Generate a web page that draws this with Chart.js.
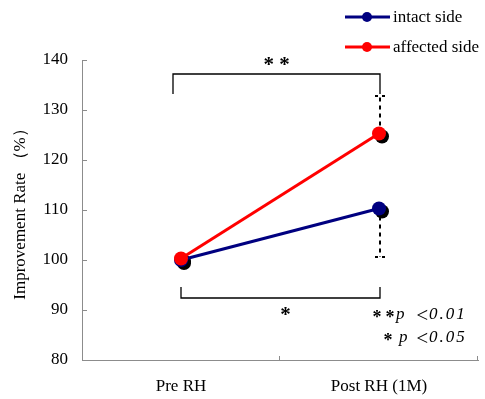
<!DOCTYPE html>
<html><head><meta charset="utf-8">
<script src="https://cdn.jsdelivr.net/npm/chart.js@4"></script>
<style>html,body{margin:0;padding:0;background:#fff}#c{display:block}</style>
</head><body>
<canvas id="c" width="485" height="399"></canvas>
<script>
const categories = ["Pre RH", "Post RH (1M)"];
const intactSide = [100.0, 110.3];
const affectedSide = [100.3, 125.3];
const intactErrLow = [null, 100.6];
const affectedErrHigh = [null, 132.8];
const yTicks = [80, 90, 100, 110, 120, 130, 140];
const topBracket = {y: 137.2, drop: 133.2, label: "* *"};
const bottomBracket = {y: 92.4, rise: 94.6, label: "*"};
const noteStars = [2, 1];
const noteP = ["0.01", "0.05"];

const FONT = "'Liberation Serif','DejaVu Serif',serif";
const AXIS = "#8c8c8c";

const custom = {
  id: "custom",
  beforeDatasetsDraw(chart) {
    const ctx = chart.ctx;
    ctx.save();
    ctx.fillStyle = "#000";
    chart.data.datasets.forEach((ds, i) => {
      chart.getDatasetMeta(i).data.forEach(pt => {
        ctx.beginPath(); ctx.arc(pt.x + 3, pt.y + 3, 7, 0, Math.PI * 2); ctx.fill();
      });
    });
    const x = chart.scales.x, y = chart.scales.y;
    ctx.strokeStyle = "#000"; ctx.lineWidth = 2; ctx.setLineDash([4, 4]);
    const eb = (i, from, to) => {
      const px = x.getPixelForValue(i) + 1;
      ctx.beginPath(); ctx.moveTo(px, y.getPixelForValue(from)); ctx.lineTo(px, y.getPixelForValue(to)); ctx.stroke();
      ctx.setLineDash([3, 4]);
      ctx.beginPath(); ctx.moveTo(px - 5, y.getPixelForValue(to)); ctx.lineTo(px + 6, y.getPixelForValue(to)); ctx.stroke();
      ctx.setLineDash([4, 4]);
    };
    affectedErrHigh.forEach((v, i) => { if (v != null) eb(i, affectedSide[i], v); });
    intactErrLow.forEach((v, i) => { if (v != null) eb(i, intactSide[i], v); });
    ctx.restore();
  },
  afterDraw(chart) {
    const ctx = chart.ctx, x = chart.scales.x, y = chart.scales.y, ca = chart.chartArea;
    ctx.save();
    ctx.strokeStyle = AXIS; ctx.lineWidth = 1;
    y.ticks.forEach((t, i) => {
      const py = Math.round(y.getPixelForTick(i)) + 0.5;
      ctx.beginPath(); ctx.moveTo(ca.left, py); ctx.lineTo(ca.left + 5, py); ctx.stroke();
    });
    [1, 2].forEach(k => {
      const px = Math.round(ca.left + (ca.right - ca.left) * k / 2) - 0.5;
      ctx.beginPath(); ctx.moveTo(px, ca.bottom); ctx.lineTo(px, ca.bottom - 4); ctx.stroke();
    });
    ctx.strokeStyle = "#000"; ctx.lineWidth = 1.3;
    const x0 = x.getPixelForValue(0), x1 = x.getPixelForValue(1) + 1;
    const tb = y.getPixelForValue(topBracket.y), td = y.getPixelForValue(topBracket.drop);
    ctx.beginPath(); ctx.moveTo(x0 - 8, td); ctx.lineTo(x0 - 8, tb); ctx.lineTo(x1, tb); ctx.lineTo(x1, td); ctx.stroke();
    const bb = y.getPixelForValue(bottomBracket.y), br = y.getPixelForValue(bottomBracket.rise);
    ctx.beginPath(); ctx.moveTo(x0, br); ctx.lineTo(x0, bb); ctx.lineTo(x1, bb); ctx.lineTo(x1, br); ctx.stroke();
    ctx.fillStyle = "#000"; ctx.textAlign = "center"; ctx.textBaseline = "middle";
    ctx.font = "bold 21px " + FONT;
    ctx.fillText(topBracket.label, (x0 - 8 + x1) / 2, tb - 8);
    ctx.fillText(bottomBracket.label, (x0 + x1) / 2 + 5, bb + 18);
    // significance notes
    const notePos = [{stars: [377, 390], p: 396, y: 315}, {stars: [388], p: 399, y: 338}];
    notePos.forEach((n, i) => {
      ctx.textAlign = "center";
      ctx.font = "bold 18px " + FONT;
      for (let k = 0; k < noteStars[i]; k++) ctx.fillText("*", n.stars[k], n.y + 3);
      ctx.textAlign = "left";
      ctx.font = "italic 17px " + FONT;
      ctx.fillText("p", n.p, n.y);
      ctx.font = "italic 21px " + FONT;
      ctx.fillText("<", 415, n.y + 1);
      ctx.font = "italic 17px " + FONT;
      ctx.letterSpacing = "2px";
      ctx.fillText(noteP[i], 429, n.y);
      ctx.letterSpacing = "0px";
    });
    ctx.font = "17px " + FONT;
    const leg = [{ds: 0, y: 17}, {ds: 1, y: 47}];
    leg.forEach(l => {
      const ds = chart.data.datasets[l.ds];
      ctx.strokeStyle = ds.borderColor; ctx.lineWidth = 3;
      ctx.beginPath(); ctx.moveTo(345, l.y); ctx.lineTo(390, l.y); ctx.stroke();
      ctx.fillStyle = ds.borderColor;
      ctx.beginPath(); ctx.arc(367, l.y, 5, 0, Math.PI * 2); ctx.fill();
      ctx.fillStyle = "#000";
      ctx.fillText(ds.label, 393, l.y + 1);
    });
    ctx.restore();
  }
};

new Chart(document.getElementById("c"), {
  type: "line",
  data: {
    labels: categories,
    datasets: [
      {label: "intact side", data: intactSide, borderColor: "#000080", backgroundColor: "#000080",
       borderWidth: 3, pointRadius: 7, pointBorderWidth: 0, order: 1},
      {label: "affected side", data: affectedSide, borderColor: "#ff0000", backgroundColor: "#ff0000",
       borderWidth: 3, pointRadius: 7, pointBorderWidth: 0, order: 0}
    ]
  },
  options: {
    responsive: false, animation: false,
    layout: {padding: {top: 60, right: 7, left: 0, bottom: 0}},
    plugins: {legend: {display: false}, tooltip: {enabled: false}},
    scales: {
      x: {
        offset: true,
        grid: {display: false, drawTicks: false},
        border: {display: true, color: AXIS, width: 1},
        ticks: {color: "#000", font: {family: FONT, size: 17}, padding: 16},
        afterFit: s => { s.height = 39; }
      },
      y: {
        min: 80, max: 140,
        afterBuildTicks: s => { s.ticks = yTicks.map(v => ({value: v})); },
        grid: {display: false, drawTicks: false},
        border: {display: true, color: AXIS, width: 1},
        ticks: {color: "#000", font: {family: FONT, size: 17}, padding: 14},
        title: {display: true, text: "Improvement Rate （%）", color: "#000", font: {family: FONT, size: 17}, padding: {top: 10, bottom: 0}},
        afterFit: s => { s.width = 82; }
      }
    }
  },
  plugins: [custom]
});
</script>
</body></html>
